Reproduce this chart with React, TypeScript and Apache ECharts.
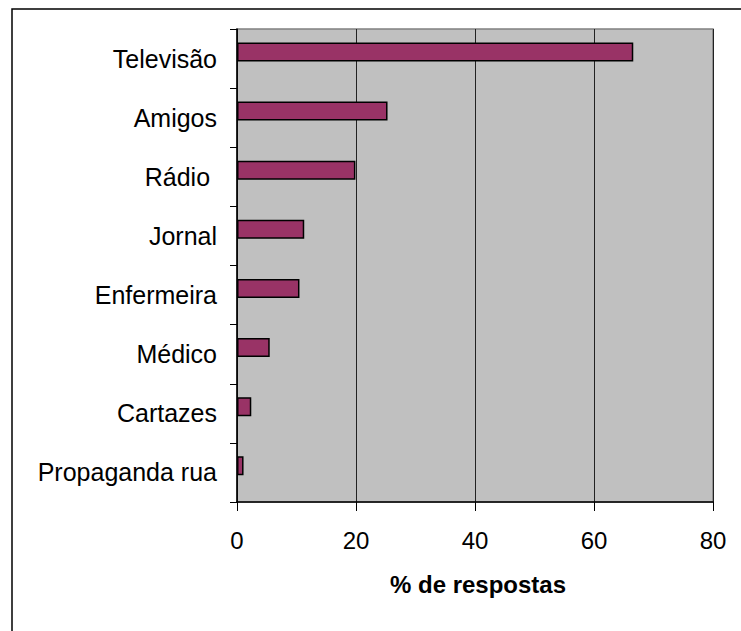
import React, { useEffect, useRef } from "react";
import * as echarts from "echarts";

const categories = [
  "Televisão",
  "Amigos",
  "Rádio ",
  "Jornal",
  "Enfermeira",
  "Médico",
  "Cartazes",
  "Propaganda rua",
];
const values = [66.6, 25.3, 19.9, 11.3, 10.5, 5.5, 2.4, 1.1];
const xTicks = [0, 20, 40, 60, 80];
const xTitle = "% de respostas";

const FONT = "'Liberation Sans', Arial, sans-serif";

export default function App() {
  const ref = useRef<HTMLDivElement>(null);
  useEffect(() => {
    document.body.style.margin = "0";
    if (!ref.current) return;
    const chart = echarts.init(ref.current, null, { renderer: "svg" });
    chart.setOption({
      animation: false,
      backgroundColor: "#ffffff",
      textStyle: { fontFamily: FONT },
      graphic: [
        {
          type: "rect",
          shape: { x: 12, y: 9, width: 800, height: 700 },
          style: { fill: "none", stroke: "#000000", lineWidth: 1.5 },
          silent: true,
        },
      ],
      grid: {
        left: 237,
        top: 29,
        right: 28,
        bottom: 129,
        show: true,
        backgroundColor: "#C0C0C0",
        borderColor: "#808080",
        borderWidth: 1.5,
      },
      xAxis: {
        type: "value",
        min: xTicks[0],
        max: xTicks[xTicks.length - 1],
        interval: 20,
        name: xTitle,
        nameLocation: "middle",
        nameGap: 70,
        nameTextStyle: {
          fontFamily: FONT,
          fontSize: 24,
          fontWeight: "bold",
          color: "#000",
          padding: [0, 0, 0, 6],
        },
        axisLine: { show: true, lineStyle: { color: "#000", width: 1.5 } },
        axisTick: { show: true, length: 9, lineStyle: { color: "#000", width: 1 } },
        axisLabel: {
          fontFamily: FONT,
          fontSize: 24,
          color: "#000",
          margin: 26,
        },
        splitLine: { show: true, lineStyle: { color: "#222", width: 1 } },
      },
      yAxis: {
        type: "category",
        data: categories,
        inverse: true,
        axisLine: { show: true, lineStyle: { color: "#000", width: 1.5 } },
        axisTick: { show: true, length: 7, lineStyle: { color: "#000", width: 1 } },
        axisLabel: {
          fontFamily: FONT,
          fontSize: 25,
          color: "#000",
          margin: 20,
        },
        splitLine: { show: false },
      },
      series: [
        {
          type: "bar",
          data: values,
          barWidth: 19,
          barGap: "-30%",
          itemStyle: { color: "#993366", borderColor: "#000", borderWidth: 1.5 },
        },
        {
          type: "bar",
          data: [],
          barWidth: 19,
          barGap: "-30%",
        },
      ],
    });
    return () => chart.dispose();
  }, []);
  return (
    <div
      ref={ref}
      style={{ position: "fixed", left: 0, top: 0, width: 741, height: 631 }}
    />
  );
}
